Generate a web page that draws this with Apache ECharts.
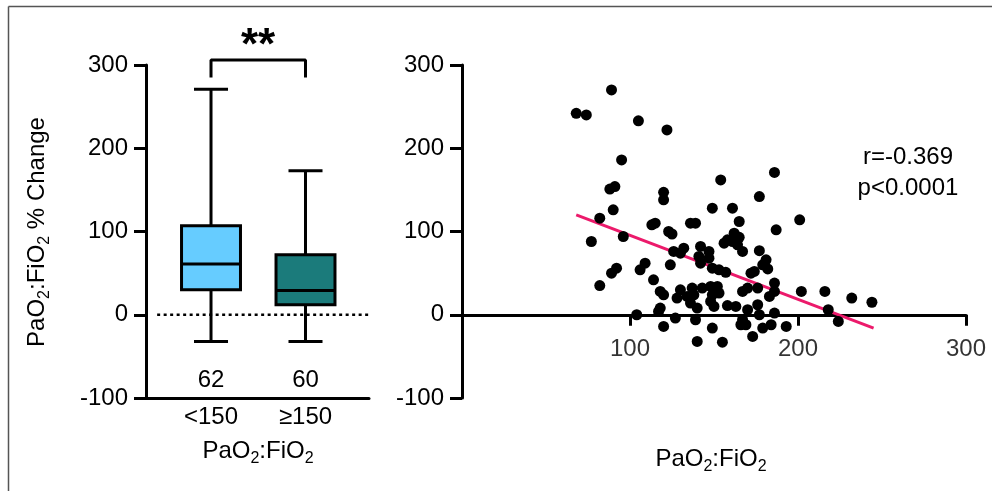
<!DOCTYPE html>
<html>
<head>
<meta charset="utf-8">
<script src="https://cdn.jsdelivr.net/npm/echarts@6/dist/echarts.min.js"></script>
<style>
  html, body { margin: 0; padding: 0; background: #ffffff; }
  #chart { width: 992px; height: 491px; }
</style>
</head>
<body>
<div id="chart"></div>
<script>
// Box plot: PaO2:FiO2 % change by baseline PaO2:FiO2 group
const groups = ['<150', '≥150'];
const groupCounts = [62, 60];
const whiskerLow = [-32, -32];
const quartile1 = [30, 12];
const medians = [61, 29];
const quartile3 = [107, 72];
const whiskerHigh = [271, 173];
const boxColors = ['#66CCFF', '#1B7B7B'];

// Significance bracket between the two groups
const bracketGroups = [1, 2];
const bracketTop = 306;
const bracketLegEnd = 285;
const significance = '**';

// Dotted reference line at 0 % change (x-span in group units)
const zeroLineSpan = [0.43, 2.672];

// Shared y-axis ticks
const yMin = -100, yMax = 300, yStep = 100;

// Scatter x-axis tick labels (drawn on the zero line)
const xTickLabels = [100, 200, 300];

// Scatter: baseline PaO2:FiO2 vs % change
const pfRatio = [
  68, 74, 89, 105, 122, 95, 88, 91, 90, 82, 77, 96, 82, 89, 92, 104, 106, 109,
  113, 115, 120, 120, 123, 125, 124, 126, 130, 132, 114, 118, 120, 118, 117, 120, 127, 130, 128,
  136, 139, 142, 147, 141, 142, 147, 149, 153, 149, 137, 134, 136, 140, 138, 139, 140,
  143, 148, 152, 149, 148, 150, 153, 149, 155,
  154, 156, 158, 157, 161, 162, 161, 164, 165, 167, 158, 163, 167, 169, 166, 170, 170, 167,
  172, 174, 179, 181, 177, 177, 176, 176, 177, 173, 179, 184, 186, 186, 183, 186, 186, 187, 193,
  201, 202, 216, 218, 224, 232, 244, 165, 182
];
const pctChange = [
  242, 240, 270, 233, 222, 186, 151, 154, 126, 116, 88, 94, 35, 50, 56, 0, 54, 62,
  108, 110, 147, 138, 100, 97, 60, 76, 74, 80, 42, 28, 24, 8, 4, -14, -4, 30, 20,
  110, 110, 82, 76, 70, 62, 68, 56, 54, 128, 32, 22, 14, 8, 24, -6, -32,
  32, 34, 34, 24, 16, 10, 26, -16, -33,
  162, 86, 90, 51, 128, 98, 88, 84, 112, 76, 11, 10, -6, -12, -12, 6, 32, 28,
  50, 52, 60, 66, 77, 142, 32, 12, 0, -26, -16, -12, 38, 28, 22, 2, 171, 102, -14,
  114, 28, 28, 6, -8, 20, 15, 93, 55
];

// Least-squares fit line endpoints
const fitX = [68, 245];
const fitY = [120, -16];
const statLines = ['r=-0.369', 'p<0.0001'];

const FONT = '"Liberation Sans", Arial, Helvetica, sans-serif';
const BLACK = '#000000';

const subRich = {
  a: { fontSize: 24, fontFamily: FONT, color: BLACK, verticalAlign: 'top', lineHeight: 26 },
  s: { fontSize: 16, fontFamily: FONT, color: BLACK, verticalAlign: 'top', lineHeight: 16, padding: [12, 0, 0, 0] }
};
const pfTitle = '{a|PaO}{s|2}{a|:FiO}{s|2}';

function yAxisCfg(gridIndex) {
  return {
    gridIndex: gridIndex, type: 'value', min: yMin, max: yMax, interval: yStep,
    axisLine: { show: true, onZero: false, lineStyle: { color: BLACK, width: 3 } },
    axisTick: { show: true, length: 12, lineStyle: { color: BLACK, width: 3 } },
    axisLabel: { color: BLACK, fontSize: 24, fontFamily: FONT, margin: 18 },
    splitLine: { show: false }
  };
}

const boxData = groups.map((g, i) => [i + 1, whiskerLow[i], quartile1[i], medians[i], quartile3[i], whiskerHigh[i], groupCounts[i], i]);

function renderBox(params, api) {
  const x = api.value(0);
  const idx = api.value(7);
  const lo = api.coord([x, api.value(1)]);
  const q1 = api.coord([x, api.value(2)]);
  const med = api.coord([x, api.value(3)]);
  const q3 = api.coord([x, api.value(4)]);
  const hi = api.coord([x, api.value(5)]);
  const base = api.coord([x, yMin]);
  const halfBox = api.size([0.312, 0])[0];
  const halfCap = api.size([0.18, 0])[0];
  const cx = lo[0];
  const ls = { stroke: BLACK, lineWidth: 3 };
  return {
    type: 'group',
    children: [
      { type: 'line', shape: { x1: cx, y1: hi[1], x2: cx, y2: q3[1] }, style: ls },
      { type: 'line', shape: { x1: cx, y1: q1[1], x2: cx, y2: lo[1] }, style: ls },
      { type: 'line', shape: { x1: cx - halfCap, y1: hi[1], x2: cx + halfCap, y2: hi[1] }, style: ls },
      { type: 'line', shape: { x1: cx - halfCap, y1: lo[1], x2: cx + halfCap, y2: lo[1] }, style: ls },
      { type: 'rect', shape: { x: cx - halfBox, y: q3[1], width: halfBox * 2, height: q1[1] - q3[1] },
        style: { fill: boxColors[idx], stroke: BLACK, lineWidth: 3 } },
      { type: 'line', shape: { x1: cx - halfBox, y1: med[1], x2: cx + halfBox, y2: med[1] }, style: ls },
      { type: 'text', x: cx, y: base[1] - 18,
        style: { text: String(api.value(6)), fontSize: 24, fontFamily: FONT, fill: BLACK, align: 'center', verticalAlign: 'middle' } },
      { type: 'text', x: cx, y: base[1] + 19,
        style: { text: groups[idx], fontSize: 24, fontFamily: FONT, fill: BLACK, align: 'center', verticalAlign: 'middle' } }
    ]
  };
}

const chart = echarts.init(document.getElementById('chart'), null, { renderer: 'canvas' });

chart.setOption({
  animation: false,
  backgroundColor: '#ffffff',
  grid: [
    { left: 146, right: 623, top: 65, bottom: 93 },
    { left: 462, right: 26, top: 65, bottom: 93 }
  ],
  xAxis: [
    {
      gridIndex: 0, type: 'value', min: 0.312, max: 2.672,
      axisLine: { show: true, onZero: false, lineStyle: { color: BLACK, width: 3 } },
      axisTick: { show: false }, axisLabel: { show: false }, splitLine: { show: false }
    },
    {
      gridIndex: 1, type: 'value', min: 0, max: 300, interval: 100,
      axisLine: { show: true, onZero: true, lineStyle: { color: BLACK, width: 3 } },
      axisTick: { show: true, length: 11, lineStyle: { color: BLACK, width: 3 } },
      axisLabel: { show: false },
      splitLine: { show: false }
    }
  ],
  yAxis: [yAxisCfg(0), yAxisCfg(1)],
  series: [
    {
      type: 'line', xAxisIndex: 0, yAxisIndex: 0, symbol: 'none', silent: true, z: 1,
      data: zeroLineSpan.map(v => [v, 0]),
      lineStyle: { color: BLACK, width: 2.5, type: [3, 3.5] }
    },
    {
      type: 'custom', xAxisIndex: 0, yAxisIndex: 0, z: 3,
      renderItem: renderBox, data: boxData, clip: false
    },
    {
      type: 'line', xAxisIndex: 0, yAxisIndex: 0, symbol: 'none', silent: true, clip: false, z: 3,
      data: [[bracketGroups[0], bracketLegEnd], [bracketGroups[0], bracketTop],
             [bracketGroups[1], bracketTop], [bracketGroups[1], bracketLegEnd]],
      lineStyle: { color: BLACK, width: 3 }
    },
    {
      type: 'line', xAxisIndex: 1, yAxisIndex: 1, symbol: 'none', silent: true, z: 2,
      data: fitX.map((v, i) => [v, fitY[i]]),
      lineStyle: { color: '#EC1A6B', width: 3 }
    },
    {
      type: 'scatter', xAxisIndex: 1, yAxisIndex: 1, z: 4,
      symbol: 'circle', symbolSize: 11,
      itemStyle: { color: BLACK, opacity: 1 },
      data: pfRatio.map((v, i) => [v, pctChange[i]])
    },
    {
      // tick labels that sit under the zero-crossing x axis
      type: 'scatter', xAxisIndex: 1, yAxisIndex: 1, z: 5, silent: true, clip: false,
      symbol: 'circle', symbolSize: 1,
      itemStyle: { color: 'rgba(0,0,0,0)' },
      label: { show: true, position: 'bottom', distance: 22, color: BLACK, fontSize: 24, fontFamily: FONT,
        formatter: p => String(p.value[0]) },
      data: xTickLabels.map(v => [v, 0])
    }
  ],
  graphic: [
    { type: 'line', shape: { x1: 8.5, y1: 6.5, x2: 992, y2: 6.5 }, style: { stroke: '#555555', lineWidth: 1.5 } },
    { type: 'line', shape: { x1: 8.5, y1: 6.5, x2: 8.5, y2: 491 }, style: { stroke: '#555555', lineWidth: 1.5 } },
    { type: 'text', x: 258, y: 47,
      style: { text: significance, fontSize: 44, fontWeight: 'bold', fontFamily: FONT, fill: BLACK, align: 'center', verticalAlign: 'middle' } },
    { type: 'text', x: 38, y: 232, rotation: Math.PI / 2,
      style: { text: pfTitle + '{a| % Change}', rich: subRich, align: 'center', verticalAlign: 'middle' } },
    { type: 'text', x: 258, y: 452,
      style: { text: pfTitle, rich: subRich, align: 'center', verticalAlign: 'middle' } },
    { type: 'text', x: 711, y: 460,
      style: { text: pfTitle, rich: subRich, align: 'center', verticalAlign: 'middle' } },
    { type: 'text', x: 908, y: 157,
      style: { text: statLines[0], fontSize: 24, fontFamily: FONT, fill: BLACK, align: 'center', verticalAlign: 'middle' } },
    { type: 'text', x: 908, y: 188,
      style: { text: statLines[1], fontSize: 24, fontFamily: FONT, fill: BLACK, align: 'center', verticalAlign: 'middle' } }
  ]
});
</script>
</body>
</html>
